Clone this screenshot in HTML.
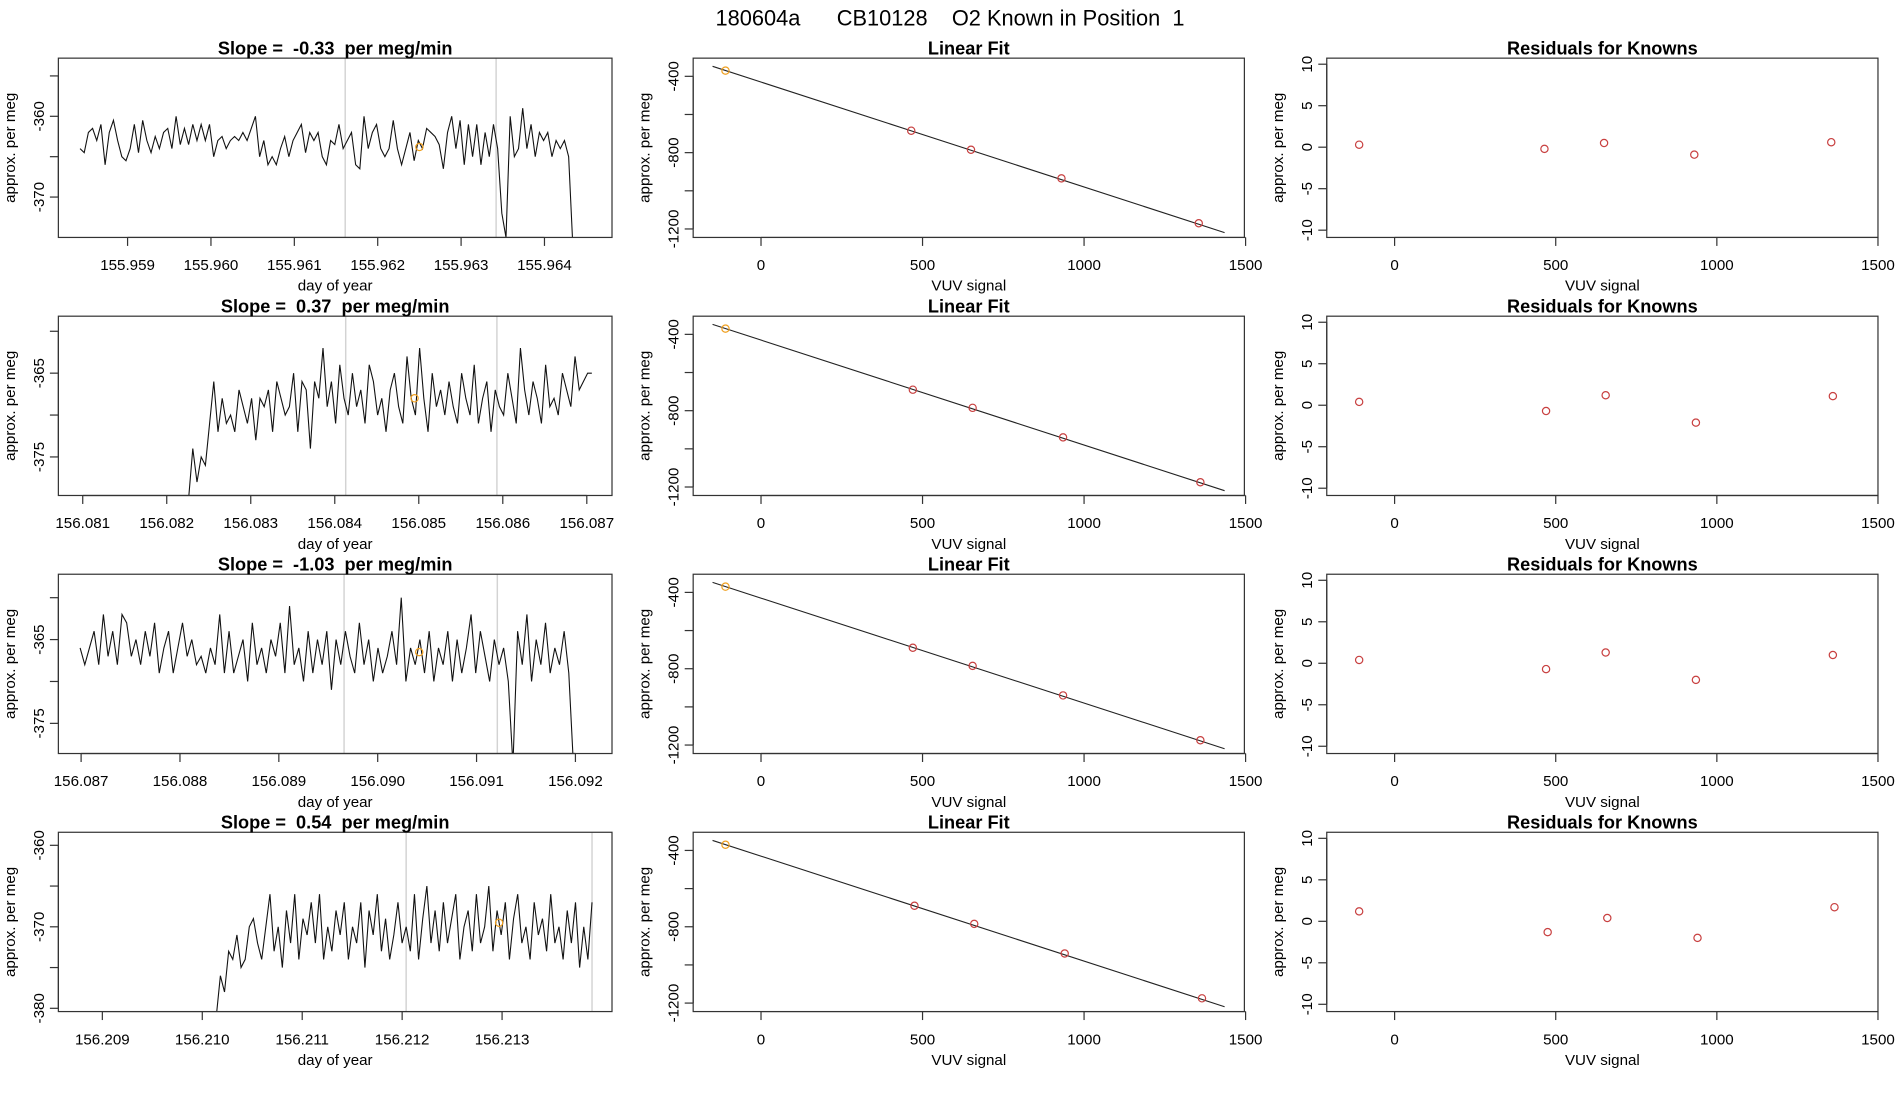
<!DOCTYPE html>
<html><head><meta charset="utf-8"><style>
html,body{margin:0;padding:0;background:#fff;}
svg{display:block;font-family:"Liberation Sans",sans-serif;}
svg text{white-space:pre;}
</style></head><body>
<svg id="chart" width="1900" height="1100" viewBox="0 0 1568 908" xmlns="http://www.w3.org/2000/svg" xml:space="preserve">
<rect width="1568" height="908" fill="#fff"/>
<text x="784" y="21" font-size="18" text-anchor="middle">180604a      CB10128    O2 Known in Position  1</text>
</svg>
<script>
// ---- data ----
const slopes = ["-0.33","0.37","-1.03","0.54"];
const tsStart = [155.95843,156.08221,156.08699,156.21014];
const tsEnd = [155.96434,156.08706,156.09198,156.2139];
const tsSeries1 = [-364,-364.5,-362,-361.5,-363,-361,-366,-362,-360.5,-363,-365,-365.5,-364,-361,-364.5,-360.5,-363,-364.5,-362.5,-364,-362,-361.5,-364,-360,-363.5,-361.5,-363.5,-361,-363,-361,-363,-361,-365,-363,-362.5,-364,-363,-362.5,-363,-362,-363,-361.5,-360,-365,-363,-366,-365,-366,-364,-362.5,-365,-363,-362,-361,-364.5,-362,-363,-362,-365,-366,-363,-363.5,-361,-364,-363,-362,-366,-366.5,-360,-364,-362,-361,-364,-365,-364,-360.5,-364,-366,-364,-362,-365.5,-363,-364,-361.5,-362,-362.5,-363.5,-366.5,-362,-360,-364,-360.5,-366,-361,-365,-361,-366,-362,-365,-361,-364,-372,-375,-360,-365,-364,-359,-364,-361,-365,-362,-363,-362,-365,-363,-364,-363,-365,-376];
const tsSeries2 = [-382,-380,-374,-378,-375,-376,-371,-366,-372,-368,-371,-370,-372,-367,-369,-371,-368,-373,-368,-369,-367,-372,-366,-368,-370,-369,-365,-372,-366,-367,-374,-366,-368,-362,-369,-366,-371,-364,-368,-370,-365,-369,-367,-371,-364,-366,-370,-368,-372,-367,-365,-369,-371,-363,-368,-370,-362,-368,-372,-365,-369,-367,-370,-366,-369,-371,-365,-368,-370,-364,-371,-368,-366,-372,-367,-369,-370,-365,-368,-371,-362,-367,-370,-366,-368,-371,-364,-369,-368,-370,-365,-367,-369,-363,-367,-366,-365,-365];
const tsSeries3 = [-366,-368,-366,-364,-368,-362,-367,-364,-368,-362,-363,-367,-365,-368,-364,-367,-363,-369,-366,-364,-369,-366,-363,-367,-365,-368,-367,-369,-366,-368,-362,-369,-364,-369,-367,-365,-370,-363,-368,-366,-369,-365,-367,-363,-369,-361,-368,-366,-370,-364,-369,-365,-368,-364,-371,-365,-368,-364,-367,-369,-363,-368,-365,-370,-366,-369,-367,-364,-368,-360,-370,-366,-368,-365,-369,-364,-370,-366,-368,-364,-370,-365,-369,-366,-362,-369,-364,-367,-370,-365,-368,-366,-370,-380,-364,-368,-362,-370,-365,-368,-363,-369,-366,-368,-364,-369,-380];
const tsSeries4 = [-381,-376,-378,-373,-374,-371,-375,-374,-370,-369,-372,-374,-370,-366,-373,-370,-375,-368,-372,-366,-374,-369,-371,-367,-372,-366,-374,-370,-373,-368,-371,-367,-374,-370,-372,-367,-375,-368,-371,-366,-373,-369,-374,-371,-367,-372,-370,-373,-366,-374,-369,-365,-372,-368,-373,-367,-372,-369,-366,-374,-370,-368,-373,-366,-372,-370,-365,-373,-368,-371,-367,-374,-369,-366,-372,-370,-374,-367,-371,-369,-373,-366,-372,-370,-374,-368,-372,-367,-375,-370,-374,-367];
const tsSeries = [tsSeries1,tsSeries2,tsSeries3,tsSeries4];
const greyLines = [[155.96161,155.96342],[156.08413,156.08593],[156.08966,156.09121],[156.21204,156.2139]];
const orangeX = [155.9625,156.08495,156.09042,156.21297];
const orangeY = [-363.8,-368,-366.5,-369.5];
const tsXTicks = [["155.959","155.960","155.961","155.962","155.963","155.964"],["156.081","156.082","156.083","156.084","156.085","156.086","156.087"],["156.087","156.088","156.089","156.090","156.091","156.092"],["156.209","156.210","156.211","156.212","156.213"]];
const tsXDomain = [[155.95817,155.96481],[156.08071,156.08730],[156.08677,156.09237],[156.20856,156.21410]];
const tsYDomain = [[-375,-352.8],[-379.6,-358.2],[-378.6,-357.2],[-380.4,-358.4]];
const tsYTicks = [[-355,-360,-365,-370],[-360,-365,-370,-375],[-360,-365,-370,-375],[-360,-365,-370,-375,-380]];
const tsYLabels = [["","-360","","-370"],["","-365","","-375"],["","-365","","-375"],["-360","","-370","","-380"]];
const signal = [[-110,465,650,930,1355],[-110,470,655,935,1360],[-110,470,655,935,1360],[-110,475,660,940,1365]];
const fitVal = [[-370,-685,-785,-935,-1170],[-370,-690,-785,-940,-1175],[-370,-690,-785,-940,-1175],[-370,-690,-785,-940,-1175]];
const resid = [[0.3,-0.2,0.5,-0.9,0.6],[0.4,-0.7,1.2,-2.1,1.1],[0.4,-0.7,1.3,-2.0,1.0],[1.2,-1.3,0.4,-2.0,1.7]];
const fitIntercept = -430, fitSlope = -0.55;
const sigTicks = [0,500,1000,1500];
const fitYTicks = [-400,-600,-800,-1000,-1200];
const fitYLabels = ["-400","","-800","","-1200"];
const resYTicks = [10,5,0,-5,-10];

// ---- drawing ----
const svg = document.getElementById('chart');
const NS = 'http://www.w3.org/2000/svg';
function el(tag, attrs, parent){const e=document.createElementNS(NS,tag);for(const k in attrs)e.setAttribute(k,attrs[k]);(parent||svg).appendChild(e);return e;}
function txt(s, attrs, parent){const e=el('text',attrs,parent);e.textContent=s;return e;}
function scale(d0,d1,r0,r1){return v=>r0+(v-d0)*(r1-r0)/(d1-d0);}

const rowTop=[48,261,474,687], H=148;
const cols=[[48,505],[572,1027],[1095,1550]];

function frame(g,x0,x1,y0,y1,title,xt,yl){
  const b=el('rect',{x:x0,y:y0,width:x1-x0,height:y1-y0,fill:'none',stroke:'#333','stroke-width':1},g);
  
  
  const t=txt(title,{x:(x0+x1)/2,y:y0-3,'font-size':15,'font-weight':'bold','text-anchor':'middle'},g);
  
  
  if(xt){const a=txt(xt,{x:(x0+x1)/2,y:y1+44,'font-size':12.5,'text-anchor':'middle'},g);
    
    }
  const ym=(y0+y1)/2;
  const a2=txt(yl,{x:0,y:0,'font-size':12.5,'text-anchor':'middle',transform:`translate(${x0-36},${ym}) rotate(-90)`},g);
  
  
}
function xAxis(g,sx,vals,labels,y1){
  const p=vals.map(sx);
  el('line',{x1:p[0],x2:p[p.length-1],y1:y1,y2:y1,stroke:'#333'},g);
  vals.forEach((v,i)=>{
    el('line',{x1:p[i],x2:p[i],y1:y1,y2:y1+7,stroke:'#333'},g);
    const t=txt(labels[i],{x:p[i],y:y1+27,'font-size':12.5,'text-anchor':'middle'},g);
    
    
  });
}
function yAxis(g,sy,vals,labels,x0){
  const p=vals.map(sy);
  el('line',{x1:x0,x2:x0,y1:p[0],y2:p[p.length-1],stroke:'#333'},g);
  vals.forEach((v,i)=>{
    el('line',{x1:x0,x2:x0-7,y1:p[i],y2:p[i],stroke:'#333'},g);
    if(labels[i]){const t=txt(labels[i],{x:0,y:0,'font-size':12.5,'text-anchor':'middle',transform:`translate(${x0-12},${p[i]}) rotate(-90)`},g);
      
      }
  });
}

for(let r=0;r<4;r++){
  const y0=rowTop[r], y1=y0+H;
  {
    const g=el('g',{});
    
    
    const [x0,x1]=cols[0];
    const sx=scale(tsXDomain[r][0],tsXDomain[r][1],x0,x1);
    const sy=scale(tsYDomain[r][0],tsYDomain[r][1],y1,y0);
    const clipId='clip'+r;
    const cp=el('clipPath',{id:clipId},g); el('rect',{x:x0,y:y0,width:x1-x0,height:H},cp);
    greyLines[r].forEach(v=>{
      const l=el('line',{x1:sx(v),x2:sx(v),y1:y0,y2:y1,stroke:'#d3d3d3','stroke-width':1.2},g);
      
      
    });
    const s=tsSeries[r], n=s.length;
    const pts=s.map((v,i)=>{const t=tsStart[r]+(tsEnd[r]-tsStart[r])*i/(n-1);return sx(t).toFixed(2)+','+sy(v).toFixed(2);});
    const pl=el('polyline',{points:pts.join(' '),fill:'none',stroke:'#111','stroke-width':0.9,'clip-path':`url(#${clipId})`},g);
    
    
    const c=el('circle',{cx:sx(orangeX[r]),cy:sy(orangeY[r]),r:3,fill:'none',stroke:'#f0a020','stroke-width':1},g);
    
    
    const xv=tsXTicks[r].map(Number);
    xAxis(g,sx,xv,tsXTicks[r],y1);
    yAxis(g,sy,tsYTicks[r],tsYLabels[r],x0);
    frame(g,x0,x1,y0,y1,`Slope =  ${slopes[r]}  per meg/min`,'day of year','approx. per meg');
  }
  {
    const g=el('g',{});
    
    
    const [x0,x1]=cols[1];
    const sx=scale(0,1500,628,1028);
    const sy=scale(-400,-1200,63,189);
    const l=el('line',{x1:sx(-150),y1:sy(fitIntercept+fitSlope*-150),x2:sx(1435),y2:sy(fitIntercept+fitSlope*1435),stroke:'#222','stroke-width':0.9},g);
    
    
    signal[r].forEach((v,i)=>{
      const c=el('circle',{cx:sx(v),cy:sy(fitVal[r][i])+(y0-48),r:3,fill:'none',stroke:i==0?'#f0a020':'#c84040','stroke-width':1},g);
      
      
    });
    l.setAttribute('transform',`translate(0,${y0-48})`);
    xAxis(g,sx,sigTicks,sigTicks.map(String),y1);
    yAxis(g,v=>sy(v)+(y0-48),fitYTicks,fitYLabels,x0);
    frame(g,x0,x1,y0,y1,'Linear Fit','VUV signal','approx. per meg');
  }
  {
    const g=el('g',{});
    
    
    const [x0,x1]=cols[2];
    const sx=scale(0,1500,1151,1550);
    const sy=scale(10,-10,y0+5,y0+142);
    signal[r].forEach((v,i)=>{
      const c=el('circle',{cx:sx(v),cy:sy(resid[r][i]),r:3,fill:'none',stroke:'#c84040','stroke-width':1},g);
      
      
    });
    xAxis(g,sx,sigTicks,sigTicks.map(String),y1);
    yAxis(g,sy,resYTicks,resYTicks.map(String),x0);
    frame(g,x0,x1,y0,y1,'Residuals for Knowns','VUV signal','approx. per meg');
  }
}
</script>
</body></html>
